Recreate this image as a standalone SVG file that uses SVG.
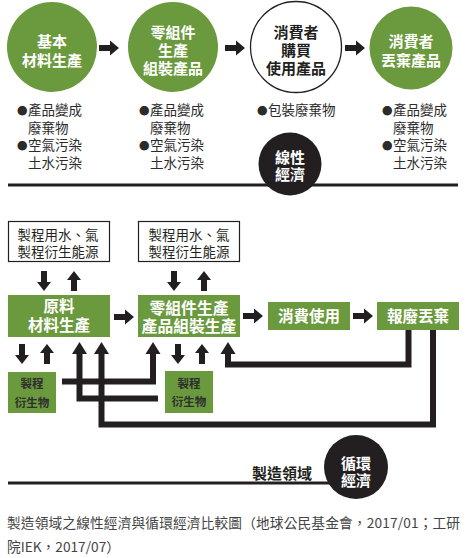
<svg xmlns="http://www.w3.org/2000/svg" xmlns:xlink="http://www.w3.org/1999/xlink" width="467" height="558" viewBox="0 0 467 558">
<style>
text{font-family:"Noto Sans CJK TC","Noto Sans CJK SC",sans-serif;}
.g{fill:#6a9a3d;}
.k{fill:#231f20;}
.wb{fill:#fff;font-weight:700;text-anchor:middle;}
.kb{fill:#231f20;font-weight:700;text-anchor:middle;}
.c15{font-size:15px;}
.bl{font-size:13.5px;fill:#2b2b2b;}
.bu{font-size:10.5px;}
.bx{font-size:13.5px;fill:#231f20;text-anchor:middle;}
.sm{font-size:11.5px;font-weight:700;fill:#2e2e2e;text-anchor:middle;}
.ln{fill:none;stroke:#231f20;stroke-width:6;stroke-linejoin:miter;}
.rule{stroke:#231f20;stroke-width:3;}
.cap{font-size:13.7px;fill:#444;}
</style>
<defs>
<path id="ar" d="M0,-3 V3 H11 V7.5 L20,0 L11,-7.5 V-3 Z" fill="#231f20"/>
<path id="ad" d="M-3,0 H3 V11 H7 L0,20 L-7,11 H-3 Z" fill="#231f20"/>
<path id="au" d="M-3,20 H3 V9 H7 L0,0 L-7,9 H-3 Z" fill="#231f20"/>
<path id="ah" d="M0,0 L7.5,12 H-7.5 Z" fill="#231f20"/>
</defs>

<g id="n-basic">
<circle class="g" cx="52" cy="47" r="45"/>
<text class="wb c15" x="52" y="47">基本</text>
<text class="wb c15" x="52" y="65.5">材料生產</text>
</g>
<g id="n-parts">
<circle class="g" cx="173" cy="47" r="45"/>
<text class="wb c15" x="173" y="37.5">零組件</text>
<text class="wb c15" x="173" y="55.5">生產</text>
<text class="wb c15" x="173" y="73.5">組裝產品</text>
</g>
<g id="n-consumer">
<circle cx="296" cy="47" r="45.5" fill="#fff" stroke="#231f20" stroke-width="1.3"/>
<text class="kb c15" x="296" y="37.5">消費者</text>
<text class="kb c15" x="296" y="55.5">購買</text>
<text class="kb c15" x="296" y="73.5">使用產品</text>
</g>
<g id="n-discard">
<circle class="g" cx="411" cy="48" r="41.5"/>
<text class="wb c15" x="411" y="47">消費者</text>
<text class="wb c15" x="411" y="65.5">丟棄產品</text>
</g>

<g id="linear-connectors">
<use xlink:href="#ar" x="99" y="48"/>
<use xlink:href="#ar" x="225" y="48"/>
<use xlink:href="#ar" x="345" y="48"/>
</g>

<g id="bullets">
<text class="bl" y="115"><tspan class="bu" x="17" dy="-0.5">●</tspan><tspan x="28" dy="0.5">產品變成</tspan></text>
<text class="bl" x="28" y="132.5">廢棄物</text>
<text class="bl" y="150"><tspan class="bu" x="17" dy="-0.5">●</tspan><tspan x="28" dy="0.5">空氣污染</tspan></text>
<text class="bl" x="28" y="168">土水污染</text>

<text class="bl" y="115"><tspan class="bu" x="139" dy="-0.5">●</tspan><tspan x="150" dy="0.5">產品變成</tspan></text>
<text class="bl" x="150" y="132.5">廢棄物</text>
<text class="bl" y="150"><tspan class="bu" x="139" dy="-0.5">●</tspan><tspan x="150" dy="0.5">空氣污染</tspan></text>
<text class="bl" x="150" y="168">土水污染</text>

<text class="bl" y="115"><tspan class="bu" x="257" dy="-0.5">●</tspan><tspan x="268" dy="0.5">包裝廢棄物</tspan></text>

<text class="bl" y="115"><tspan class="bu" x="382" dy="-0.5">●</tspan><tspan x="393" dy="0.5">產品變成</tspan></text>
<text class="bl" x="393" y="132.5">廢棄物</text>
<text class="bl" y="150"><tspan class="bu" x="382" dy="-0.5">●</tspan><tspan x="393" dy="0.5">空氣污染</tspan></text>
<text class="bl" x="393" y="168">土水污染</text>
</g>

<g id="linear-label">
<line class="rule" x1="8" y1="185" x2="458" y2="185"/>
<circle class="k" cx="290" cy="164" r="31.5"/>
<text class="wb c15" x="290" y="163">線性</text>
<text class="wb c15" x="290" y="180">經濟</text>
</g>

<g id="n-res1">
<rect x="8.5" y="221.5" width="101" height="40" fill="#fff" stroke="#231f20" stroke-width="1.2"/>
<text class="bx" x="58" y="240">製程用水、氣</text>
<text class="bx" x="58" y="257">製程衍生能源</text>
</g>
<g id="n-res2">
<rect x="138.5" y="221.5" width="101" height="40" fill="#fff" stroke="#231f20" stroke-width="1.2"/>
<text class="bx" x="189" y="240">製程用水、氣</text>
<text class="bx" x="189" y="257">製程衍生能源</text>
</g>
<g id="n-raw">
<rect class="g" x="8" y="295" width="102" height="42"/>
<text class="wb" font-size="15.5" x="59" y="312">原料</text>
<text class="wb" font-size="15.5" x="59" y="330.5">材料生產</text>
</g>
<g id="n-assembly">
<rect class="g" x="138" y="295" width="102" height="42"/>
<text class="wb" font-size="15.8" x="189" y="313.5">零組件生產</text>
<text class="wb" font-size="15.8" x="189" y="332">產品組裝生產</text>
</g>
<g id="n-use">
<rect class="g" x="268" y="302" width="82" height="28"/>
<text class="wb" font-size="15.5" x="309" y="321.5">消費使用</text>
</g>
<g id="n-scrap">
<rect class="g" x="377" y="302" width="82" height="28"/>
<text class="wb" font-size="15.5" x="418" y="321.5">報廢丟棄</text>
</g>
<g id="n-by1">
<rect class="g" x="8" y="372" width="48" height="41"/>
<text class="sm" x="32" y="388">製程</text>
<text class="sm" x="32" y="406.5">衍生物</text>
</g>
<g id="n-by2">
<rect class="g" x="165" y="371" width="48" height="42"/>
<text class="sm" x="189" y="387.5">製程</text>
<text class="sm" x="189" y="406">衍生物</text>
</g>

<g id="circular-connectors">
<use xlink:href="#ad" x="44" y="271"/>
<use xlink:href="#au" x="74" y="271"/>
<use xlink:href="#ad" x="174" y="271"/>
<use xlink:href="#au" x="204" y="271"/>
<use xlink:href="#ar" x="114" y="317"/>
<use xlink:href="#ar" x="243" y="316"/>
<use xlink:href="#ar" x="353" y="316"/>
<use xlink:href="#ad" x="22" y="344"/>
<use xlink:href="#au" x="47" y="344"/>
<use xlink:href="#ad" x="178" y="344"/>
<use xlink:href="#au" x="202" y="344"/>
<polyline class="ln" points="62,381.5 153,381.5 153,353"/>
<use xlink:href="#ah" x="153" y="342"/>
<polyline class="ln" points="158,398.5 79.5,398.5 79.5,353"/>
<use xlink:href="#ah" x="79.5" y="342"/>
<polyline class="ln" points="433,330 433,424.5 101.5,424.5 101.5,353"/>
<use xlink:href="#ah" x="101.5" y="342"/>
<polyline class="ln" points="408.5,330 408.5,364.5 228,364.5 228,353"/>
<use xlink:href="#ah" x="228" y="342"/>
</g>

<g id="circular-label">
<line class="rule" x1="8" y1="483" x2="330" y2="483"/>
<text class="kb" font-size="15" x="312" y="478.5" style="text-anchor:end">製造領域</text>
<circle class="k" cx="356" cy="467" r="32"/>
<text class="wb c15" x="356" y="468.5">循環</text>
<text class="wb c15" x="356" y="485.5">經濟</text>
</g>

<g id="caption">
<text class="cap" x="7" y="528" textLength="453" lengthAdjust="spacing">製造領域之線性經濟與循環經濟比較圖（地球公民基金會，2017/01；工研</text>
<text class="cap" x="7" y="552">院IEK，2017/07）</text>
</g>
</svg>
